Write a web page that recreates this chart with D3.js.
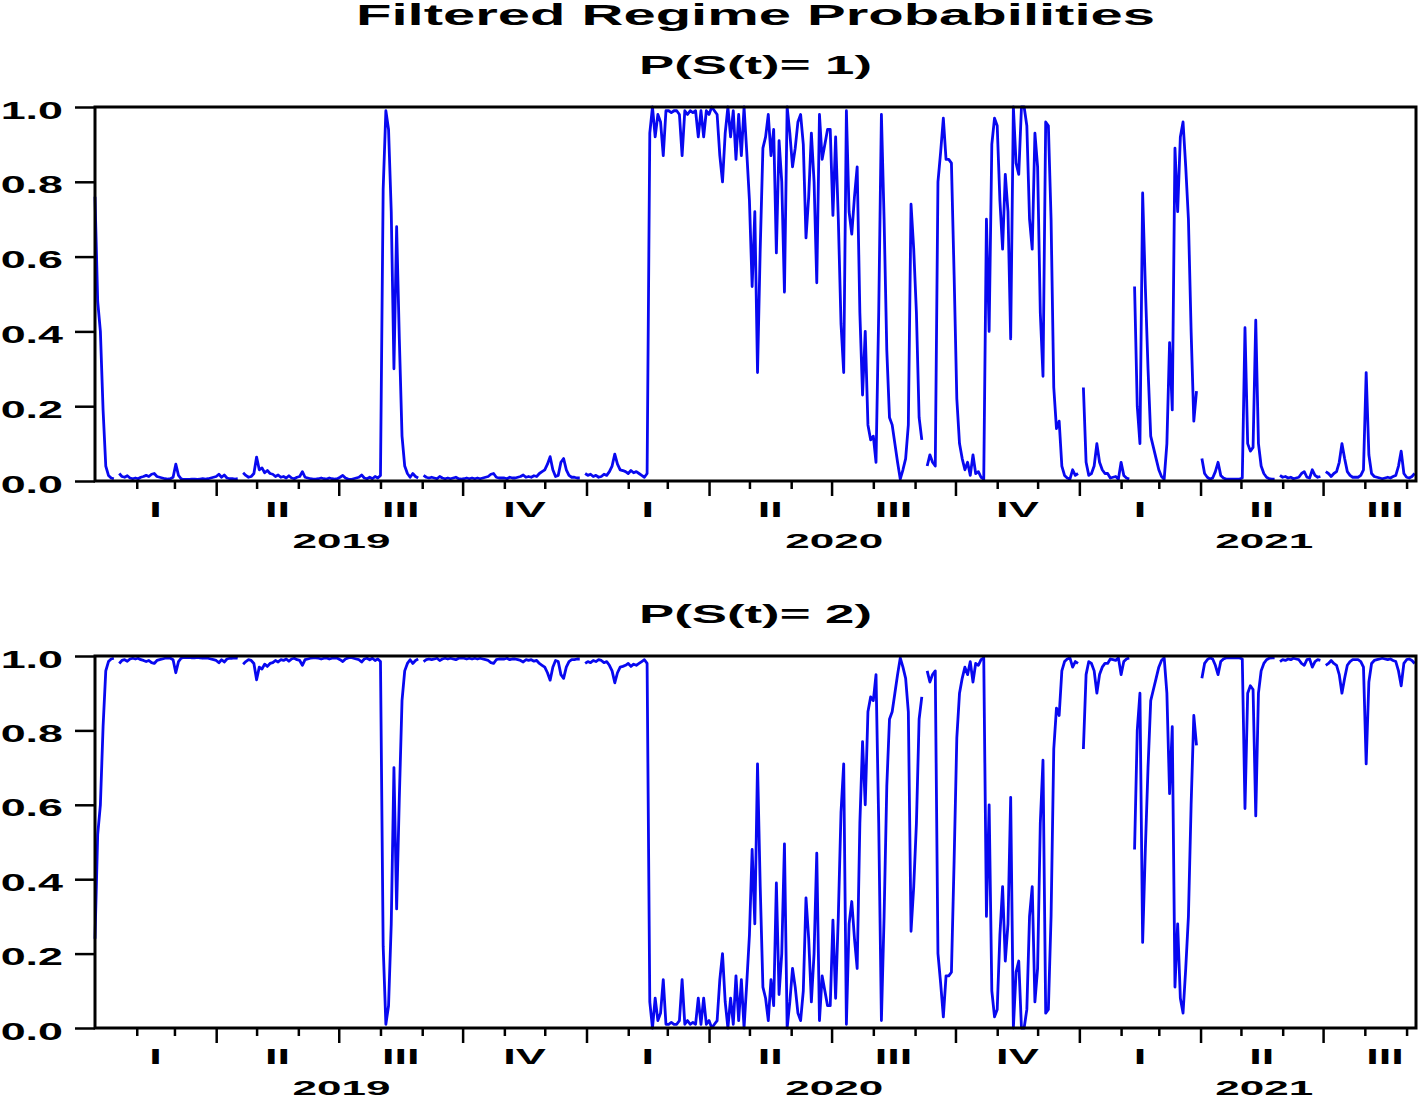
<!DOCTYPE html>
<html>
<head>
<meta charset="utf-8">
<script src="https://cdn.jsdelivr.net/npm/d3@7"></script>
<style>
  body { margin: 0; background: #fff; }
  svg { display: block; }
  text { font-family: "Liberation Sans", Arial, sans-serif; fill: #000; font-weight: bold; }
</style>
</head>
<body>
<svg id="chart" width="1418" height="1099"></svg>
<script>
// sample: one reading every 2 days starting 2019-01-01, null = missing obs (gap in line)
const startDate = new Date(2019, 0, 1);
const endDate = new Date(2021, 8, 8);
const stepDays = 2;

// filtered P(S(t)= 1)
const regime1 = [
  0.76, 0.48, 0.40, 0.19, 0.04, 0.015, 0.008, 0.006, null, 0.02,
  0.012, 0.01, 0.014, 0.008, 0.006, 0.008, 0.006, 0.01, 0.012, 0.015,
  0.012, 0.018, 0.02, 0.012, 0.01, 0.008, 0.006, 0.005, 0.006, 0.01,
  0.045, 0.015, 0.006, 0.004, 0.004, 0.004, 0.005, 0.005, 0.004, 0.005,
  0.006, 0.005, 0.006, 0.008, 0.01, 0.012, 0.018, 0.01, 0.016, 0.008,
  0.006, 0.006, 0.005, 0.006, null, 0.022, 0.015, 0.01, 0.012, 0.02,
  0.064, 0.03, 0.035, 0.022, 0.028, 0.02, 0.018, 0.012, 0.016, 0.01,
  0.012, 0.008, 0.014, 0.008, 0.006, 0.01, 0.012, 0.025, 0.01, 0.008,
  0.006, 0.005, 0.005, 0.006, 0.008, 0.006, 0.005, 0.008, 0.006, 0.005,
  0.006, 0.01, 0.015, 0.008, 0.005, 0.004, 0.006, 0.008, 0.01, 0.016,
  0.008, 0.006, 0.01, 0.006, 0.012, 0.008, 0.015, 0.78, 0.99, 0.94,
  0.72, 0.30, 0.68, 0.38, 0.12, 0.04, 0.02, 0.01, 0.02, 0.012,
  0.008, null, 0.015, 0.01, 0.008, 0.01, 0.008, 0.006, 0.012, 0.008,
  0.006, 0.008, 0.006, 0.008, 0.01, 0.006, 0.005, 0.006, 0.008, 0.006,
  0.008, 0.006, 0.008, 0.006, 0.008, 0.01, 0.012, 0.018, 0.02, 0.01,
  0.008, 0.008, 0.008, 0.006, 0.01, 0.008, 0.008, 0.01, 0.012, 0.016,
  0.01, 0.012, 0.01, 0.014, 0.012, 0.02, 0.025, 0.03, 0.045, 0.065,
  0.03, 0.012, 0.015, 0.05, 0.06, 0.03, 0.015, 0.01, 0.01, 0.008,
  0.008, null, 0.02, 0.015, 0.018, 0.012, 0.015, 0.01, 0.012, 0.018,
  0.015, 0.025, 0.04, 0.072, 0.045, 0.03, 0.028, 0.025, 0.02, 0.028,
  0.022, 0.025, 0.02, 0.015, 0.01, 0.02, 0.93, 1.0, 0.92, 0.98,
  0.96, 0.87, 0.99, 0.99, 0.985, 0.99, 0.99, 0.98, 0.87, 0.99,
  0.98, 0.99, 0.985, 0.99, 0.92, 0.99, 0.92, 0.99, 0.98, 1.0,
  0.99, 0.98, 0.87, 0.80, 0.93, 1.0, 0.92, 0.99, 0.86, 0.98,
  0.87, 1.0, 0.88, 0.75, 0.52, 0.72, 0.29, 0.62, 0.89, 0.92,
  0.98, 0.87, 0.94, 0.61, 0.91, 0.80, 0.505, 1.0, 0.93, 0.84,
  0.89, 0.96, 0.98, 0.90, 0.65, 0.76, 0.93, 0.80, 0.53, 0.98,
  0.86, 0.90, 0.94, 0.94, 0.71, 0.92, 0.70, 0.42, 0.29, 0.99,
  0.72, 0.66, 0.76, 0.84, 0.45, 0.23, 0.40, 0.15, 0.11, 0.12,
  0.05, 0.45, 0.98, 0.70, 0.35, 0.17, 0.15, 0.10, 0.05, 0.005,
  0.03, 0.06, 0.15, 0.74, 0.62, 0.45, 0.17, 0.11, null, 0.04,
  0.07, 0.05, 0.04, 0.80, 0.88, 0.97, 0.86, 0.86, 0.85, 0.55,
  0.22, 0.10, 0.06, 0.03, 0.05, 0.015, 0.07, 0.02, 0.025, 0.01,
  0.005, 0.70, 0.40, 0.90, 0.97, 0.95, 0.75, 0.62, 0.82, 0.72,
  0.38, 1.0, 0.85, 0.82, 1.0, 1.0, 0.95, 0.70, 0.62, 0.93,
  0.84, 0.45, 0.28, 0.96, 0.95, 0.70, 0.25, 0.14, 0.16, 0.04,
  0.015, 0.008, 0.005, 0.03, 0.015, 0.02, null, 0.25, 0.05, 0.015,
  0.02, 0.04, 0.10, 0.05, 0.03, 0.02, 0.02, 0.008, 0.01, 0.012,
  0.005, 0.05, 0.015, 0.008, 0.005, null, 0.52, 0.2, 0.1, 0.77,
  0.52, 0.30, 0.12, 0.09, 0.06, 0.03, 0.012, 0.005, 0.10, 0.37,
  0.19, 0.89, 0.72, 0.92, 0.96, 0.84, 0.70, 0.40, 0.16, 0.24,
  null, 0.06, 0.02, 0.01, 0.005, 0.008, 0.025, 0.05, 0.015, 0.008,
  0.005, 0.005, 0.005, 0.005, 0.005, 0.005, 0.008, 0.41, 0.10, 0.08,
  0.09, 0.43, 0.10, 0.04, 0.02, 0.01, 0.006, 0.005, 0.005, null,
  0.015, 0.01, 0.012, 0.008, 0.01, 0.006, 0.008, 0.01, 0.02, 0.025,
  0.01, 0.008, 0.03, 0.015, 0.01, 0.012, null, 0.025, 0.02, 0.012,
  0.02, 0.025, 0.05, 0.10, 0.06, 0.025, 0.015, 0.01, 0.01, 0.01,
  0.015, 0.03, 0.29, 0.07, 0.02, 0.012, 0.01, 0.008, 0.006, 0.008,
  0.01, 0.008, 0.012, 0.015, 0.04, 0.08, 0.02, 0.01, 0.008, 0.012,
  0.02
];
// two regimes only, so the filtered probabilities add up to one
const regime2 = regime1.map(v => v == null ? null : 1 - v);

const quarterLabels = ["I", "II", "III", "IV"];
const yTicks = [0, 0.2, 0.4, 0.6, 0.8, 1.0];
const chartTitle = "Filtered Regime Probabilities";
const panelTitles = ["P(S(t)= 1)", "P(S(t)= 2)"];

const svg = d3.select("#chart");
const left = 95, right = 1416;
const panels = [
  { top: 107, bottom: 481, values: regime1, title: panelTitles[0] },
  { top: 656, bottom: 1028, values: regime2, title: panelTitles[1] }
];

const x = d3.scaleTime().domain([startDate, endDate]).range([left, right]);
const cx = (left + right) / 2;

// text in the original is stretched sideways, so widen it with a scale
function label(x0, y0, txt, size, sx, anchor) {
  return svg.append("text")
    .attr("transform", `translate(${x0},${y0}) scale(${sx},1)`)
    .attr("text-anchor", anchor || "middle")
    .style("font-size", size + "px")
    .text(txt);
}

svg.append("text")
  .attr("x", cx).attr("y", 25)
  .attr("text-anchor", "middle")
  .attr("textLength", 799).attr("lengthAdjust", "spacingAndGlyphs")
  .style("font-size", "29px")
  .text(chartTitle);

const months = d3.timeMonth.range(d3.timeDay.offset(startDate, 1), endDate);
const quarterTicks = months.filter(d => d.getMonth() % 3 === 0);
const monthTicks = months.filter(d => d.getMonth() % 3 !== 0);
const quarters = d3.timeMonth.every(3).range(d3.timeYear.floor(startDate), endDate);
const years = d3.timeYear.range(d3.timeYear.floor(startDate), endDate);

const line = d3.line()
  .defined(d => d.v != null)
  .x(d => x(d.date))
  .curve(d3.curveLinear);

panels.forEach(p => {
  const y = d3.scaleLinear().domain([0, 1]).range([p.bottom, p.top]);
  const data = p.values.map((v, i) => ({ date: d3.timeDay.offset(startDate, i * stepDays), v }));

  svg.append("text")
    .attr("x", cx).attr("y", p.top - 33)
    .attr("text-anchor", "middle")
    .attr("textLength", 233).attr("lengthAdjust", "spacingAndGlyphs")
    .style("font-size", "26px")
    .text(p.title);

  svg.append("path")
    .datum(data)
    .attr("fill", "none")
    .attr("stroke", "#0808f0")
    .attr("stroke-width", 2.8)
    .attr("stroke-linejoin", "round")
    .attr("d", line.y(d => y(d.v)));

  // frame
  svg.append("rect")
    .attr("x", left).attr("y", p.top)
    .attr("width", right - left).attr("height", p.bottom - p.top)
    .attr("fill", "none").attr("stroke", "#000").attr("stroke-width", 3);

  const yAxis = svg.append("g")
    .attr("transform", `translate(${left},0)`)
    .call(d3.axisLeft(y).tickValues(yTicks).tickSize(20).tickFormat(d3.format(".1f")));
  yAxis.select(".domain").remove();
  yAxis.selectAll(".tick line").attr("stroke-width", 2.5);
  yAxis.selectAll(".tick text")
    .attr("x", 0).attr("dy", null)
    .attr("transform", "translate(-32,11) scale(1.95,1)")
    .style("font-size", "23px")
    .style("font-family", "'Liberation Sans', Arial, sans-serif")
    .style("font-weight", "bold");

  [[monthTicks, 8], [quarterTicks, 15]].forEach(([vals, size]) => {
    const ax = svg.append("g")
      .attr("transform", `translate(0,${p.bottom})`)
      .call(d3.axisBottom(x).tickValues(vals).tickSize(size).tickFormat(""));
    ax.select(".domain").remove();
    ax.selectAll(".tick line").attr("stroke-width", 2.5);
  });

  const qMid = q => (x(q) + x(d3.timeMonth.offset(q, 3))) / 2;
  quarters.forEach(q => {
    label(qMid(q), p.bottom + 36, quarterLabels[q.getMonth() / 3], 22, 2.05);
  });
  years.forEach(yr => {
    const qs = quarters.filter(q => q.getFullYear() === yr.getFullYear());
    label(d3.mean(qs, qMid) + 2, p.bottom + 67, yr.getFullYear(), 21, 2.1);
  });
});
</script>
</body>
</html>
